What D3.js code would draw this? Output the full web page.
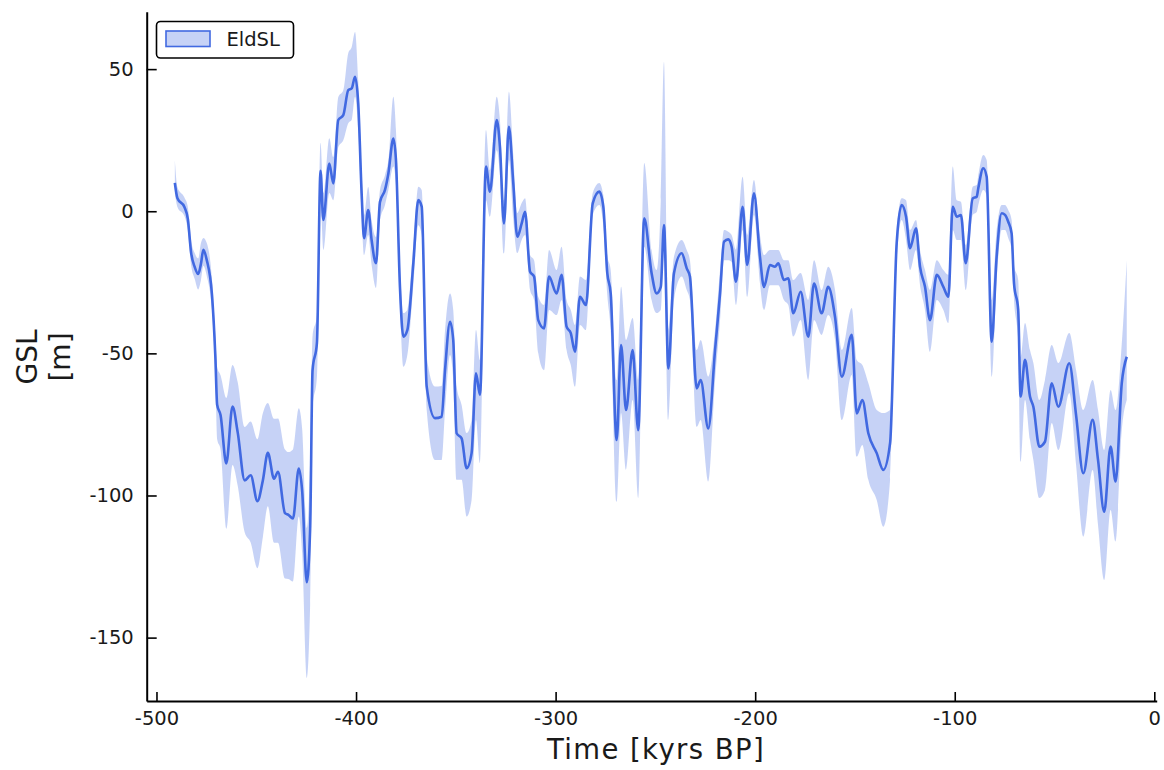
<!DOCTYPE html>
<html>
<head>
<meta charset="utf-8">
<script src="https://cdn.jsdelivr.net/npm/d3@7"></script>
<style>
  html, body { margin: 0; padding: 0; background: #fff; }
  svg { display: block; }
  text { font-family: "DejaVu Sans", sans-serif; }
</style>
</head>
<body>
<svg id="chart" width="1164" height="770"></svg>
<script>
// ---- data ----
const seriesName = "EldSL";
const xTickValues = [-500, -400, -300, -200, -100, 0];
const yTickValues = [-150, -100, -50, 0, 50];

const time = [
  -490.8,-489.5,-486.0,-484.3,-482.6,-480.8,-479.1,-477.7,-476.5,-474.8,
  -472.2,-470.5,-469.6,-467.9,-465.0,-461.9,-459.3,-455.8,-452.8,-449.4,
  -446.7,-444.2,-441.1,-439.1,-435.6,-433.9,-431.6,-428.7,-427.0,-424.7,
  -423.0,-421.8,-419.6,-417.8,-416.4,-413.4,-411.4,-408.9,-406.4,-403.9,
  -402.2,-400.5,-398.9,-397.2,-396.0,-393.9,-392.2,-390.0,-388.0,-385.5,
  -383.8,-381.3,-380.0,-378.0,-376.3,-374.3,-371.3,-368.8,-367.1,-364.6,
  -360.4,-357.1,-355.4,-352.9,-351.3,-349.6,-347.1,-344.6,-342.1,-339.9,
  -337.9,-334.9,-332.9,-329.5,-327.9,-325.9,-323.4,-321.2,-319.2,-317.0,
  -315.3,-312.8,-310.8,-308.7,-305.8,-303.3,-299.5,-297.0,-294.5,-292.4,
  -290.3,-287.8,-284.8,-281.4,-278.1,-276.1,-274.1,-272.4,-269.4,-267.2,
  -264.7,-261.4,-258.6,-255.6,-251.9,-249.4,-247.3,-245.7,-243.5,-240.7,
  -236.8,-234.3,-232.7,-229.3,-227.3,-223.5,-220.1,-217.6,-215.6,-213.5,
  -211.8,-209.6,-206.3,-204.0,-200.6,-197.6,-195.6,-192.6,-190.1,-188.4,
  -185.6,-183.4,-180.9,-177.2,-173.4,-170.5,-166.7,-163.4,-160.0,-156.6,
  -151.6,-149.1,-146.3,-143.3,-139.1,-135.8,-132.4,-129.1,-126.6,-124.4,
  -122.4,-119.4,-117.4,-114.9,-112.4,-109.0,-105.7,-103.2,-101.0,-99.0,
  -96.9,-94.5,-91.0,-89.0,-88.2,-85.7,-84.0,-81.5,-79.0,-76.5,
  -74.8,-73.2,-71.5,-70.3,-68.2,-67.0,-64.8,-62.3,-60.6,-57.6,
  -54.8,-51.4,-48.1,-42.6,-39.2,-35.6,-30.9,-28.2,-25.1,-21.9,
  -19.4,-16.3,-13.8
];
const gsl = [
  10.0,4.6,1.5,-2.7,-14.8,-19.7,-22.1,-18.4,-13.6,-17.2,
  -29.3,-51.1,-68.1,-71.7,-88.7,-68.7,-77.8,-94.7,-92.9,-102.0,
  -94.7,-85.0,-94.1,-91.7,-106.2,-106.8,-108.1,-90.5,-98.4,-130.5,
  -111.7,-56.0,-46.3,14.2,-3.1,16.8,9.8,32.1,33.8,42.6,
  43.2,47.3,37.9,6.3,-9.5,0.4,-10.1,-18.3,3.3,7.5,
  13.3,25.6,18.0,-26.6,-44.1,-41.8,-18.3,3.9,1.6,-61.7,
  -72.8,-72.3,-55.9,-38.9,-45.3,-78.1,-79.9,-90.4,-85.1,-57.0,
  -64.6,15.7,6.9,32.1,22.7,-4.3,29.7,9.8,-9.0,-4.3,
  -0.2,-21.3,-23.0,-38.3,-41.2,-23.0,-28.9,-22.4,-40.6,-42.9,
  -49.4,-30.1,-33.0,2.8,6.9,1.6,-21.8,-28.9,-80.5,-47.1,
  -69.9,-48.8,-77.0,-2.5,-21.8,-28.9,-26.6,-4.9,-55.3,-21.8,
  -14.8,-20.1,-23.0,-62.3,-59.4,-76.4,-48.8,-28.9,-10.7,-9.9,
  -12.5,-24.8,1.6,-18.9,6.3,-16.0,-26.6,-18.9,-19.5,-18.3,
  -24.2,-23.6,-35.9,-28.3,-44.1,-25.4,-35.9,-26.6,-37.1,-58.2,
  -43.5,-71.1,-66.4,-78.1,-85.1,-91.0,-81.6,-11.3,2.2,-1.9,
  -13.0,-6.0,-19.5,-26.6,-38.3,-22.4,-26.6,-30.1,1.6,-1.9,
  -1.3,-18.3,4.5,5.1,8.1,15.1,12.1,-45.9,-16.0,-0.7,
  -1.3,-3.7,-7.8,-25.4,-34.7,-65.2,-52.3,-65.2,-68.8,-82.8,
  -81.1,-60.5,-68.8,-53.5,-71.7,-92.2,-73.4,-87.5,-105.7,-82.8,
  -95.1,-60.5,-51.2
];
const gslLower = [
  6.3,1.5,-1.7,-6.8,-19.2,-23.9,-27.5,-24.2,-19.2,-22.8,
  -34.7,-58.4,-80.2,-83.8,-111.7,-89.3,-96.6,-112.9,-116.5,-125.6,
  -114.7,-103.8,-116.6,-116.6,-129.2,-129.4,-130.3,-107.4,-120.2,-164.2,
  -138.3,-69.4,-58.3,3.3,-13.6,6.4,3.9,22.6,25.0,31.0,
  32.1,40.3,28.6,-1.3,-15.4,-8.4,-18.9,-27.0,-3.1,2.2,
  7.5,15.7,9.2,-33.0,-54.7,-50.6,-26.0,-4.9,-8.4,-69.9,
  -87.5,-87.5,-69.9,-50.6,-59.4,-94.5,-94.5,-107.4,-101.6,-73.4,
  -88.6,3.9,-1.9,21.5,12.7,-14.8,18.0,-3.1,-14.7,-10.1,
  -8.4,-27.7,-31.2,-49.9,-55.9,-34.7,-36.5,-31.2,-48.8,-54.1,
  -61.7,-40.0,-41.8,-1.3,2.2,-4.9,-29.5,-41.8,-102.2,-71.0,
  -91.0,-66.4,-100.9,-12.5,-31.2,-35.8,-34.7,-13.6,-73.4,-31.2,
  -23.0,-27.7,-31.2,-75.8,-73.4,-95.1,-59.4,-38.3,-17.2,-17.2,
  -17.9,-33.0,-6.6,-30.1,-1.3,-25.3,-34.7,-26.0,-26.0,-26.0,
  -31.2,-33.0,-44.1,-38.3,-59.4,-38.3,-43.5,-36.5,-45.3,-73.4,
  -57.6,-86.3,-82.2,-94.5,-101.6,-111.0,-94.5,-17.2,-3.1,-10.1,
  -20.7,-13.6,-26.0,-34.7,-49.4,-31.2,-34.7,-39.3,-6.6,-10.1,
  -10.1,-27.7,-1.3,-0.3,2.2,7.5,5.7,-58.2,-24.2,-6.6,
  -6.6,-9.4,-13.6,-31.2,-45.3,-88.1,-66.4,-80.5,-87.5,-100.9,
  -98.1,-74.5,-84.0,-63.9,-89.3,-114.5,-91.0,-110.4,-129.7,-105.1,
  -116.2,-77.0,-66.4
];
const gslUpper = [
  17.9,8.4,4.8,1.5,-10.4,-14.8,-16.6,-11.2,-9.4,-11.2,
  -23.8,-43.9,-54.8,-57.7,-65.7,-54.1,-60.2,-75.9,-74.0,-80.2,
  -71.1,-67.5,-73.0,-72.9,-83.8,-84.7,-83.8,-69.3,-76.6,-111.4,
  -87.5,-44.0,-36.5,24.1,6.4,25.7,19.1,40.2,42.6,55.6,
  57.7,63.1,46.1,14.5,-1.3,8.5,-3.1,-9.1,7.5,12.7,
  18.0,40.3,28.6,-18.9,-35.8,-34.7,-11.9,8.6,7.5,-51.2,
  -61.7,-61.5,-41.8,-28.9,-34.7,-61.7,-68.2,-78.0,-73.4,-41.8,
  -52.3,28.6,14.5,40.3,32.1,3.9,42.0,19.8,-0.6,2.9,
  4.6,-15.4,-17.2,-30.1,-33.0,-13.6,-20.7,-12.5,-31.2,-34.7,
  -40.0,-23.0,-24.2,6.4,9.9,5.7,-15.4,-20.7,-59.4,-26.6,
  -45.3,-37.6,-59.4,17.0,-13.6,-20.7,3.9,52.5,-41.8,-16.0,
  -10.1,-13.6,-17.2,-48.8,-45.3,-58.2,-41.8,-20.7,-6.6,-7.2,
  -8.4,-13.6,12.1,-8.4,11.0,-8.4,-15.4,-13.6,-13.6,-13.6,
  -17.2,-17.2,-24.2,-21.7,-31.2,-17.2,-27.7,-19.5,-27.7,-48.8,
  -34.0,-52.3,-54.1,-60.4,-69.9,-71.0,-69.9,-6.6,4.6,3.9,
  -6.6,-3.1,-13.6,-20.7,-27.7,-17.2,-20.7,-22.4,15.7,3.9,
  3.3,-11.9,8.6,9.2,12.7,19.8,18.0,-31.2,-6.6,2.2,
  2.2,0.4,-3.1,-18.9,-24.2,-51.2,-39.3,-48.8,-53.4,-66.4,
  -59.4,-47.1,-53.4,-42.8,-55.9,-69.9,-59.4,-69.9,-84.0,-62.9,
  -69.9,-46.5,-17.2
];

// ---- build records ----
const data = time.map((t, i) => ({ t, m: gsl[i], lo: gslLower[i], hi: gslUpper[i] }));

const svg = d3.select("#chart");
svg.append("rect").attr("width", 1164).attr("height", 770).attr("fill", "#fff");

const x = d3.scaleLinear().domain([-504.9, 1.2]).range([146.7, 1156.7]);
const y = d3.scaleLinear().domain([-172.3, 70.2]).range([701, 11.7]);

const blue = "#4169E1";

// band
svg.append("path")
  .datum(data)
  .attr("fill", blue)
  .attr("fill-opacity", 0.3)
  .attr("stroke", "none")
  .attr("d", d3.area()
    .x(d => x(d.t))
    .y0(d => y(d.lo))
    .y1(d => y(d.hi))
    .curve(d3.curveMonotoneX));

// mean line
svg.append("path")
  .datum(data)
  .attr("fill", "none")
  .attr("stroke", blue)
  .attr("stroke-width", 2.6)
  .attr("stroke-linejoin", "round")
  .attr("d", d3.line()
    .x(d => x(d.t))
    .y(d => y(d.m))
    .curve(d3.curveMonotoneX));

// axes
const xAxis = d3.axisBottom(x)
  .tickValues(xTickValues)
  .tickFormat(d => String(d))
  .tickSizeInner(-9)
  .tickSizeOuter(0)
  .tickPadding(10.5);
const yAxis = d3.axisLeft(y)
  .tickValues(yTickValues)
  .tickFormat(d => String(d))
  .tickSizeInner(-10)
  .tickSizeOuter(0)
  .tickPadding(13);

const gx = svg.append("g").attr("transform", "translate(0,701)").call(xAxis);
const gy = svg.append("g").attr("transform", "translate(146.7,0)").call(yAxis);

[gx, gy].forEach(g => {
  g.select(".domain").attr("stroke", "#000").attr("stroke-width", 2);
  g.selectAll(".tick line").attr("stroke", "#000").attr("stroke-width", 1.6);
  g.selectAll(".tick text")
    .attr("fill", "#1a1a1a")
    .style("font-family", "'DejaVu Sans', sans-serif")
    .style("font-size", "19.5px");
});

// axis titles
svg.append("text")
  .attr("x", 656)
  .attr("y", 759)
  .attr("text-anchor", "middle")
  .style("font-size", "27.5px")
  .style("letter-spacing", "1.4px")
  .attr("fill", "#1a1a1a")
  .text("Time [kyrs BP]");

const yTitle = svg.append("text")
  .attr("transform", "translate(37,357) rotate(-90)")
  .attr("text-anchor", "middle")
  .style("font-size", "28px")
  .attr("fill", "#1a1a1a");
yTitle.append("tspan").attr("x", 0).attr("dy", 0).text("GSL");
yTitle.append("tspan").attr("x", 0).attr("dy", 33).text("[m]");

// legend
const lg = svg.append("g");
lg.append("rect")
  .attr("x", 156.5).attr("y", 21.5)
  .attr("width", 137).attr("height", 36.5)
  .attr("rx", 4)
  .attr("fill", "#fff")
  .attr("stroke", "#000")
  .attr("stroke-width", 1.6);
lg.append("rect")
  .attr("x", 166).attr("y", 31)
  .attr("width", 44).attr("height", 15.5)
  .attr("fill", blue).attr("fill-opacity", 0.3)
  .attr("stroke", blue).attr("stroke-width", 1.6);
lg.append("text")
  .attr("x", 226.5).attr("y", 45.5)
  .style("font-size", "19.5px")
  .attr("fill", "#1a1a1a")
  .text(seriesName);
</script>
</body>
</html>
